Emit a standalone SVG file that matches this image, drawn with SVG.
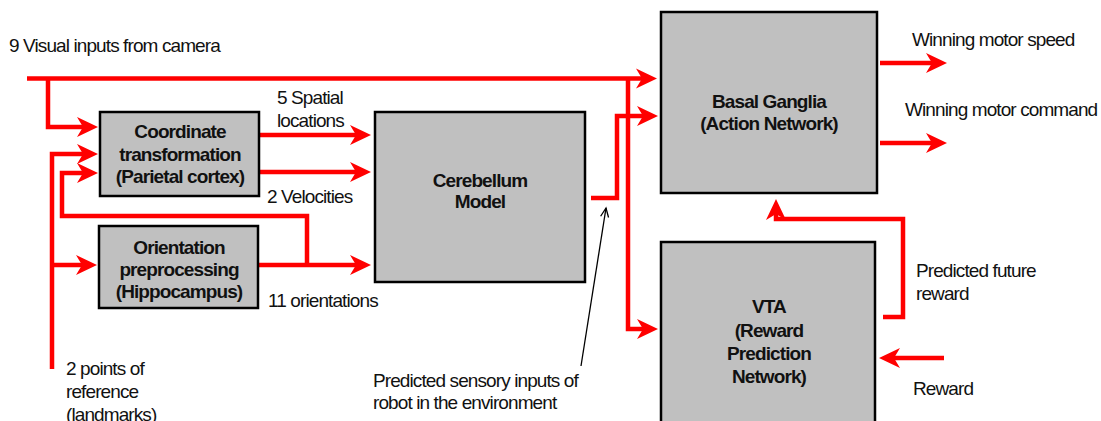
<svg xmlns="http://www.w3.org/2000/svg" width="1101" height="421" viewBox="0 0 1101 421">
<style>
.box{fill:#c0c0c0;stroke:#000;stroke-width:2.5}
.b{font-family:"Liberation Sans",Arial,sans-serif;font-weight:bold;font-size:19px;letter-spacing:-0.9px;text-anchor:middle;fill:#111}
.t{font-family:"Liberation Sans",Arial,sans-serif;font-size:19px;letter-spacing:-0.9px;fill:#111}
.c{fill:none;stroke:#ff0000;stroke-width:4.5;marker-end:url(#ah)}
.k{fill:none;stroke:#000;stroke-width:1.3;marker-end:url(#bh)}
</style>
<defs>
<marker id="ah" markerUnits="userSpaceOnUse" markerWidth="24" markerHeight="22" viewBox="-22 -11 24 22" refX="-12" refY="0" orient="auto">
<path d="M0,0 L-21,-10 L-15,0 L-21,10 Z" fill="#ff0000"/>
</marker>
<marker id="bh" markerUnits="userSpaceOnUse" markerWidth="14" markerHeight="12" viewBox="-12 -6 14 12" refX="0" refY="0" orient="auto">
<path d="M-9,-4 L0,0 L-9,4" fill="none" stroke="#000" stroke-width="1.3"/>
</marker>
</defs>
<rect width="1101" height="421" fill="#fff"/>
<g id="connectors">
<path class="c" d="M27,78.5 H645"/>
<path class="c" d="M48,78.5 V127 H86"/>
<path class="c" d="M628,78.5 V329 H646"/>
<path class="c" d="M591,198 H617 V116 H646"/>
<path class="c" d="M259,135 H359"/>
<path class="c" d="M259,172 H359"/>
<path class="c" d="M258,265 H359"/>
<path class="c" d="M307,265 V216 H62 V173 H86"/>
<path class="c" d="M52,369 V154 H86"/>
<path class="c" d="M52,265 H85"/>
<path class="c" d="M880,63 H935"/>
<path class="c" d="M880,143 H935"/>
<path class="c" d="M883,317 H903 V219 H776 V211"/>
<path class="c" d="M944,358 H891"/>
<path class="k" d="M581,366 L606,208"/>
</g>
<g id="coord">
<rect class="box" x="100" y="112" width="159" height="84"/>
<text class="b" x="180" y="138">Coordinate</text>
<text class="b" x="180" y="161">transformation</text>
<text class="b" x="180" y="183">(Parietal cortex)</text>
</g>
<g id="orient">
<rect class="box" x="99" y="226" width="159" height="82"/>
<text class="b" x="179" y="254">Orientation</text>
<text class="b" x="179" y="276">preprocessing</text>
<text class="b" x="179" y="298">(Hippocampus)</text>
</g>
<g id="cerebellum">
<rect class="box" x="375" y="112" width="210" height="170"/>
<text class="b" x="480" y="187">Cerebellum</text>
<text class="b" x="480" y="208">Model</text>
</g>
<g id="basal">
<rect class="box" x="661" y="12" width="216" height="181"/>
<text class="b" x="769" y="108">Basal Ganglia</text>
<text class="b" x="769" y="130">(Action Network)</text>
</g>
<g id="vta">
<rect class="box" x="661" y="242" width="214" height="190"/>
<text class="b" x="769" y="313">VTA</text>
<text class="b" x="769" y="337">(Reward</text>
<text class="b" x="769" y="360">Prediction</text>
<text class="b" x="769" y="383">Network)</text>
</g>
<g id="labels">
<text class="t" x="9" y="52">9 Visual inputs from camera</text>
<text class="t" x="912" y="46">Winning motor speed</text>
<text class="t" x="905" y="116">Winning motor command</text>
<text class="t" x="277" y="104">5 Spatial</text>
<text class="t" x="277" y="127">locations</text>
<text class="t" x="267" y="203">2 Velocities</text>
<text class="t" x="268" y="307">11 orientations</text>
<text class="t" x="66" y="375">2 points of</text>
<text class="t" x="66" y="398">reference</text>
<text class="t" x="66" y="421">(landmarks)</text>
<text class="t" x="373" y="387">Predicted sensory inputs of</text>
<text class="t" x="373" y="409">robot in the environment</text>
<text class="t" x="916" y="277">Predicted future</text>
<text class="t" x="916" y="300">reward</text>
<text class="t" x="913" y="395">Reward</text>
</g>
</svg>
